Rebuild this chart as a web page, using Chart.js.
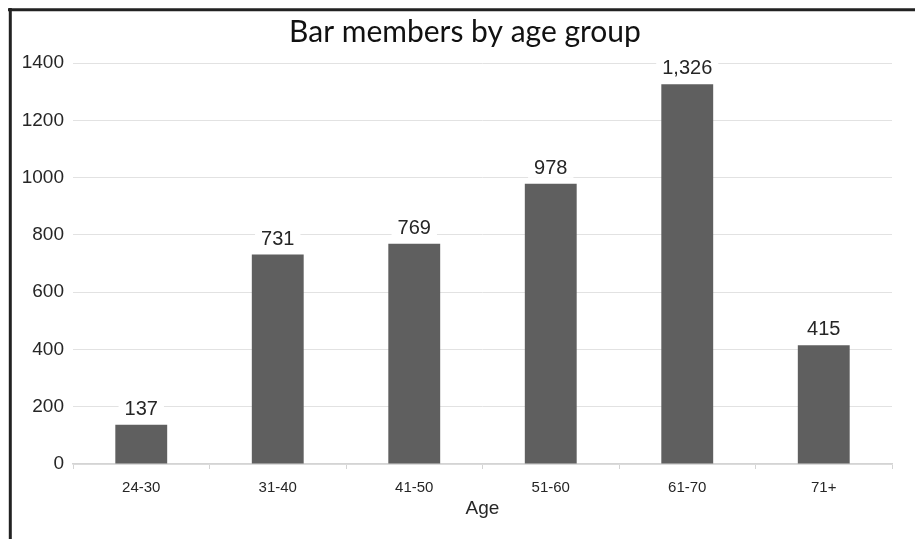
<!DOCTYPE html>
<html>
<head>
<meta charset="utf-8">
<script src="https://cdn.jsdelivr.net/npm/chart.js@4/dist/chart.umd.min.js"></script>
<style>
    html, body { margin: 0; padding: 0; background: #fff; }
    #wrap { width: 915px; height: 539px; }
</style>
</head>
<body>
<div id="wrap"><canvas id="chart"></canvas></div>
<script>
const CHART_TITLE = 'Bar members by age group';
const AGE_GROUPS = ['24-30', '31-40', '41-50', '51-60', '61-70', '71+'];
const MEMBERS = [137, 731, 769, 978, 1326, 415];
const Y_TICKS = [0, 200, 400, 600, 800, 1000, 1200, 1400];
const X_TITLE = 'Age';

const SANS = '"Liberation Sans", Arial, sans-serif';

// white page plus the frame lines on top and left
const framePlugin = {
    id: 'frame',
    beforeDraw(chart) {
        const ctx = chart.ctx;
        ctx.save();
        ctx.fillStyle = '#fff';
        ctx.fillRect(0, 0, chart.width, chart.height);
        ctx.strokeStyle = '#222';
        ctx.lineWidth = 3;
        ctx.beginPath();
        ctx.moveTo(8, 9.7);
        ctx.lineTo(chart.width, 9.7);
        ctx.moveTo(10.3, 8);
        ctx.lineTo(10.3, chart.height);
        ctx.stroke();
        ctx.restore();
    },
    afterDraw(chart) {
        const ctx = chart.ctx;
        ctx.save();
        ctx.fillStyle = '#111';
        ctx.font = '30px Lato, "Noto Sans", sans-serif';
        ctx.textAlign = 'center';
        ctx.textBaseline = 'alphabetic';
        ctx.fillText(CHART_TITLE, 465, 42);
        ctx.restore();
    }
};

// value labels above each bar, on a white patch that cuts the grid line
const valueLabels = {
    id: 'valueLabels',
    afterDatasetsDraw(chart) {
        const ctx = chart.ctx;
        const meta = chart.getDatasetMeta(0);
        ctx.save();
        ctx.font = '20px ' + SANS;
        ctx.textAlign = 'center';
        ctx.textBaseline = 'alphabetic';
        meta.data.forEach((bar, i) => {
            const text = MEMBERS[i].toLocaleString('en-US');
            const w = ctx.measureText(text).width;
            const y = bar.y - 10;
            ctx.fillStyle = '#fff';
            ctx.fillRect(bar.x - w / 2 - 6, y - 18, w + 12, 22);
            ctx.fillStyle = '#262626';
            ctx.fillText(text, bar.x, y);
        });
        ctx.restore();
    }
};

new Chart(document.getElementById('chart'), {
    type: 'bar',
    data: {
        labels: AGE_GROUPS,
        datasets: [{
            label: 'Members',
            data: MEMBERS,
            backgroundColor: '#5f5f5f',
            borderWidth: 0,
            categoryPercentage: 1,
            barPercentage: 0.38
        }]
    },
    options: {
        responsive: true,
        maintainAspectRatio: false,
        animation: false,
        layout: { padding: { top: 63, right: 23, bottom: 0, left: 0 } },
        plugins: {
            legend: { display: false },
            title: { display: false },
            tooltip: { enabled: false }
        },
        scales: {
            x: {
                grid: {
                    offset: true,
                    drawOnChartArea: false,
                    tickLength: 5,
                    color: '#d4d4d4'
                },
                border: { color: '#d4d4d4', width: 1.5 },
                ticks: {
                    color: '#262626',
                    padding: 10,
                    font: { family: SANS, size: 15 },
                    maxRotation: 0
                },
                title: {
                    display: true,
                    text: X_TITLE,
                    color: '#262626',
                    font: { family: SANS, size: 19 },
                    padding: { top: 0, bottom: 19 }
                },
                afterFit(scale) { scale.height = 75; }
            },
            y: {
                min: 0,
                max: 1400,
                afterBuildTicks(scale) { scale.ticks = Y_TICKS.map(v => ({ value: v })); },
                grid: { color: '#e2e2e2', drawTicks: false },
                border: { display: false },
                ticks: {
                    color: '#262626',
                    padding: 9,
                    font: { family: SANS, size: 19 },
                    callback: v => String(v)
                },
                afterFit(scale) { scale.width = 73; }
            }
        }
    },
    plugins: [framePlugin, valueLabels]
});
</script>
</body>
</html>
